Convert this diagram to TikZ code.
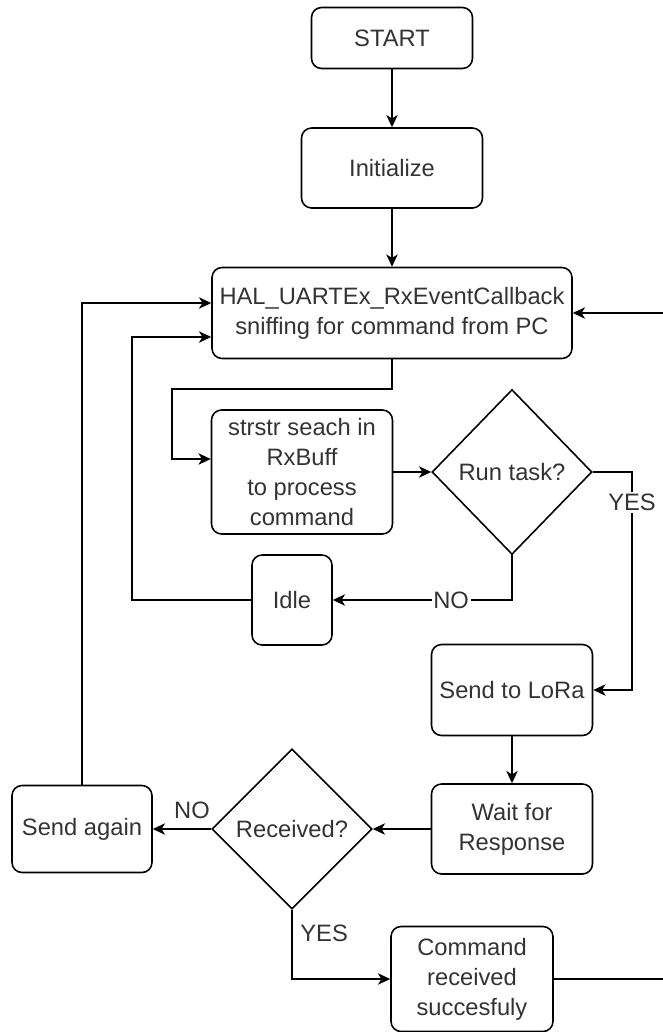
\documentclass[tikz,border=0pt]{standalone}
\usepackage{fontspec}
\setmainfont{Liberation Sans}
\usetikzlibrary{shapes.geometric,arrows.meta}
\definecolor{inkgray}{HTML}{333333}

\begin{document}
\begin{tikzpicture}[x=0.02cm, y=-0.02cm, line width=0.9pt,
		every node/.style={font=\fontsize{13.5}{17}\selectfont, text=inkgray},
		box/.style={draw, rounded corners=0.2cm, align=center, inner sep=1pt},
		choice/.style={draw, diamond, aspect=1, inner sep=0pt},
		arr/.style={-{Stealth[length=7pt, width=6.5pt, inset=2pt]}},
		tag/.style={fill=white, inner sep=1pt}]
	\useasboundingbox (0,0) rectangle (663,1032);

	\node[box, minimum width=3.22cm, minimum height=1.22cm] (start) at (392,38) {START};
	\node[box, minimum width=3.62cm, minimum height=1.6cm] (init) at (392,168) {Initialize};
	\node[box, minimum width=7.2cm, minimum height=1.82cm] (hal) at (392,313)
		{HAL\_UARTEx\_RxEventCallback\\sniffing for command from PC};
	\node[box, minimum width=3.62cm, minimum height=2.48cm] (search) at (302,472)
		{strstr seach in\\RxBuff\\to process\\command};
	\node[choice, minimum width=3.2cm, minimum height=3.3cm] (task) at (512,472) {Run task?};
	\node[box, minimum width=1.6cm, minimum height=1.8cm] (idle) at (292,600) {Idle};
	\node[box, minimum width=3.22cm, minimum height=1.82cm] (lora) at (512,690) {Send to LoRa};
	\node[box, minimum width=3.22cm, minimum height=1.8cm] (wait) at (512,829) {Wait for\\Response};
	\node[choice, minimum width=3.2cm, minimum height=3.2cm] (recv) at (292,829) {Received?};
	\node[box, minimum width=2.8cm, minimum height=1.74cm] (again) at (82,829) {Send again};
	\node[box, minimum width=3.24cm, minimum height=2.1cm] (done) at (472,979)
		{Command\\received\\succesfuly};

	\coordinate (rimhigh) at (663,313);
	\coordinate (rimlow) at (663,979);

	\foreach \a/\b in {start/init, init/hal, search/task, lora/wait, wait/recv}
		\draw[arr] (\a) -- (\b);

	\draw[arr] (hal.south) |- (172,389) |- (search.west |- 0,459);
	\draw[arr] (task.east) -- (632,472) |- node[tag, pos=0.07] {YES} (lora.east);
	\draw[arr] (task.south) |- node[tag, pos=0.67] {NO} (idle.east);
	\draw[arr] (idle.west) -| (132,337) -- (hal.west |- 0,337);
	\draw[arr] (recv) -- node[above=2pt, pos=0.33] {NO} (again);
	\draw[arr] (again.north) |- (hal.west |- 0,303);
	\draw[arr] (recv.south) |- node[right=1pt, pos=0.17] {YES} (done.west);
	\draw (done.east) -- (rimlow);
	\draw[arr] (rimhigh) -- (hal.east);
\end{tikzpicture}
\end{document}
